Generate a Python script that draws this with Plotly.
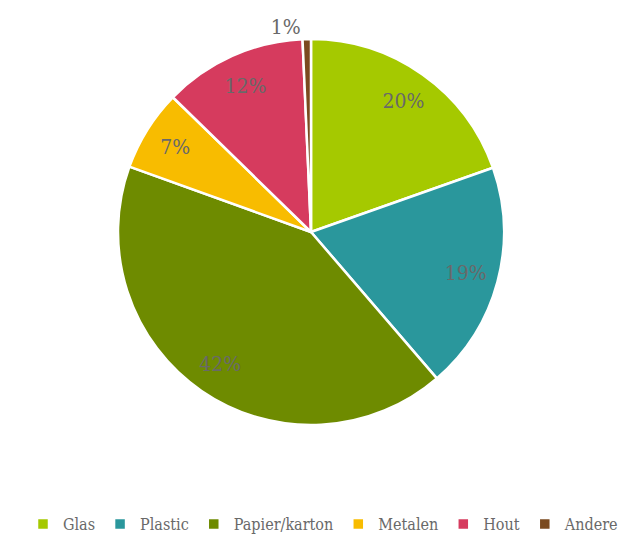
import plotly.graph_objects as go

categories = ["Glas", "Plastic", "Papier/karton", "Metalen", "Hout", "Andere"]
values = [19.6, 19.1, 41.8, 6.8, 12.0, 0.7]
colors = ["#a5c900", "#2a979c", "#6e8b00", "#f8bc00", "#d63b5e", "#7b4a1f"]
positions = ["inside", "inside", "inside", "inside", "inside", "outside"]

FONT = "DejaVu Serif Condensed"
DOMAIN_X = [0.0, 0.9604]

fig = go.Figure()
# filled slices
fig.add_trace(go.Pie(
    labels=categories,
    values=values,
    sort=False,
    direction="clockwise",
    rotation=0,
    domain=dict(x=DOMAIN_X, y=[0, 1]),
    marker=dict(colors=colors, line=dict(color="white", width=2.5)),
    textinfo="none",
    hoverinfo="label+percent",
))
# ring carrying the percentage labels near the rim
fig.add_trace(go.Pie(
    labels=categories,
    values=values,
    sort=False,
    direction="clockwise",
    rotation=0,
    domain=dict(x=DOMAIN_X, y=[0, 1]),
    hole=0.66,
    marker=dict(colors=["rgba(0,0,0,0)"] * len(categories), line=dict(width=0)),
    texttemplate="%{percent:.0%}",
    textposition=positions,
    insidetextorientation="horizontal",
    textfont=dict(family=FONT, size=21, color="#696969"),
    hoverinfo="skip",
    showlegend=False,
))

fig.update_layout(
    width=631, height=531,
    margin=dict(l=0, r=0, t=31, b=114, autoexpand=False),
    paper_bgcolor="white",
    showlegend=True,
    legend=dict(
        orientation="h",
        xref="container", yref="container",
        x=0.5, xanchor="center",
        y=0.0282, yanchor="middle",
        font=dict(family=FONT, size=16, color="#696969"),
        itemwidth=30,
    ),
    uniformtext=dict(minsize=21, mode="show"),
)

fig.write_html("out.html")
